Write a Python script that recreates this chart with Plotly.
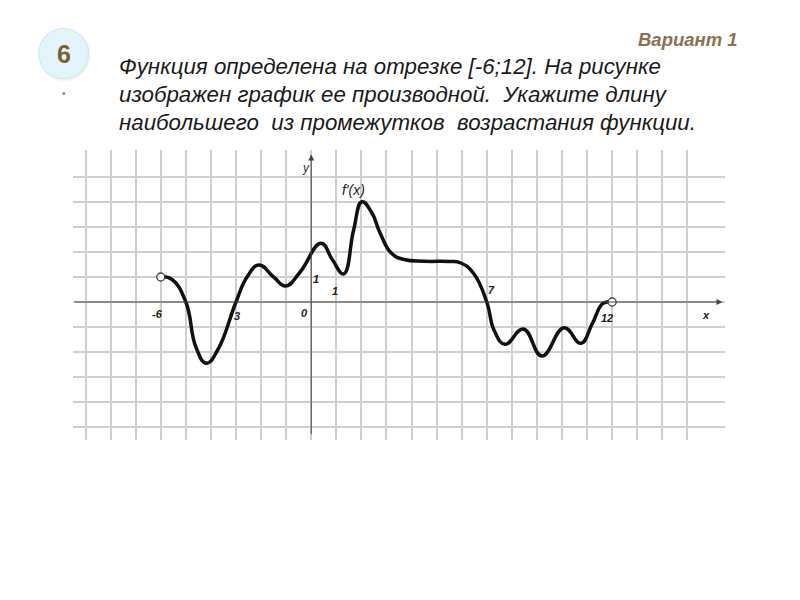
import plotly.graph_objects as go

# Derivative f'(x) sampled at its key points (extrema, zeros, plateau)
x_pts = [-6, -5.55, -5.0, -4.6, -4.18, -3.72, -3.0, -2.56, -2.09, -1.5,
         -1.02, -0.44, 0.39, 0.85, 1.29, 1.69, 2.02, 2.4, 2.75, 3.2,
         3.7, 4.5, 5.5, 5.94, 6.47, 7.0, 7.3, 7.73, 8.46, 9.2,
         10.08, 10.75, 11.2, 11.6, 11.8, 12]
y_pts = [1.0, 0.9, 0.0, -1.8, -2.45, -1.9, 0.0, 1.0, 1.48, 1.0,
         0.64, 1.2, 2.35, 1.68, 1.12, 2.88, 4.01, 3.6, 2.75, 1.95,
         1.7, 1.63, 1.62, 1.57, 1.15, 0.0, -1.15, -1.69, -1.08, -2.16,
         -1.03, -1.65, -0.88, -0.08, 0.0, 0.0]

# Open endpoints of the domain [-6; 12]
end_x = [-6, 12]
end_y = [1, 0]

# Grid
grid_x = list(range(-9, 16))
grid_y = list(range(-5, 6))

# Axis tick labels drawn by hand: (text, x, y)
tick_labels = [("-6", -6.14, -0.48), ("3", -2.95, -0.56), ("0", -0.28, -0.44),
               ("1", 0.96, 0.44), ("1", 0.2, 0.92), ("7", 7.17, 0.48),
               ("12", 11.8, -0.64)]

question = ["Функция определена на отрезке [-6;12]. На рисунке",
            "изображен график ее производной.\u00a0 Укажите длину",
            "наибольшего\u00a0 из промежутков\u00a0 возрастания функции."]

# Plot area in pixels
L, R, T, B = 72.5, 725.1, 150, 440
X_RANGE = [-9.5, 16.5]
Y_RANGE = [-5.52, 6.08]


def px(v):
    return (v - L) / (R - L)


def py(v):
    return (B - v) / (B - T)


fig = go.Figure()

fig.add_trace(go.Scatter(
    x=x_pts, y=y_pts, mode="lines",
    line=dict(color="#111111", width=3.5, shape="spline", smoothing=1.3),
    hoverinfo="skip", showlegend=False))

fig.add_trace(go.Scatter(
    x=end_x, y=end_y, mode="markers",
    marker=dict(size=8, color="white", line=dict(color="#444444", width=1.3)),
    hoverinfo="skip", showlegend=False))

ann = []
# coordinate axes with arrowheads
ann.append(dict(x=16.4, y=0, ax=-9.5, ay=0, xref="x", yref="y", axref="x", ayref="y",
                text="", showarrow=True, arrowhead=2, arrowsize=1.2, arrowwidth=1,
                arrowcolor="#444444"))
ann.append(dict(x=0, y=5.9, ax=0, ay=-5.35, xref="x", yref="y", axref="x", ayref="y",
                text="", showarrow=True, arrowhead=2, arrowsize=1.2, arrowwidth=1,
                arrowcolor="#444444"))

lab_font = dict(family="Liberation Sans, Arial", size=11, color="#222222",
                weight="bold", style="italic")
for t, lx, ly in tick_labels:
    ann.append(dict(x=lx, y=ly, xref="x", yref="y", text=t, showarrow=False,
                    font=lab_font))
ann.append(dict(x=15.74, y=-0.52, xref="x", yref="y", text="x", showarrow=False,
                font=lab_font))
ann.append(dict(x=-0.2, y=5.36, xref="x", yref="y", text="y", showarrow=False,
                font=dict(family="Liberation Sans, Arial", size=12, color="#333333",
                          style="italic")))
ann.append(dict(x=1.7, y=4.5, xref="x", yref="y", text="f′(x)", showarrow=False,
                font=dict(family="Liberation Sans, Arial", size=14, color="#222222",
                          style="italic")))

# question text
for i, line in enumerate(question):
    ann.append(dict(x=px(117), y=py(66.5 + i * 28.2), xref="paper", yref="paper",
                    xanchor="left", yanchor="middle", text=line, showarrow=False,
                    font=dict(family="Liberation Sans, Arial", size=22.3,
                              color="#1a1a1a", style="italic")))

# variant header
ann.append(dict(x=px(740), y=py(40), xref="paper", yref="paper", xanchor="right",
                yanchor="middle", text="Вариант 1", showarrow=False,
                font=dict(family="Liberation Sans, Arial", size=18.5, color="#8c7150",
                          weight="bold", style="italic")))

# problem number badge
ann.append(dict(x=px(63), y=py(54), xref="paper", yref="paper", text="6",
                xanchor="center", yanchor="middle", showarrow=False,
                font=dict(family="Liberation Sans, Arial", size=25, color="#7d602f",
                          weight="bold")))

shapes = [
    dict(type="circle", xref="paper", yref="paper",
         x0=px(38), x1=px(90), y0=py(81), y1=py(29),
         fillcolor="rgba(150,150,150,0.12)", line=dict(width=0), layer="below"),
    dict(type="circle", xref="paper", yref="paper",
         x0=px(38), x1=px(88), y0=py(78.5), y1=py(28.5),
         fillcolor="#e1f5fa", line=dict(color="#cbe7ef", width=1), layer="below"),
    dict(type="circle", xref="paper", yref="paper",
         x0=px(61.8), x1=px(64.8), y0=py(95), y1=py(92),
         fillcolor="#8f8f8f", line=dict(width=0), layer="below"),
]

fig.update_layout(
    width=800, height=600,
    margin=dict(l=L, r=800 - R, t=T, b=600 - B, pad=0),
    paper_bgcolor="white", plot_bgcolor="white",
    annotations=ann, shapes=shapes,
    xaxis=dict(range=X_RANGE, tickvals=grid_x, showticklabels=False, ticks="",
               showgrid=True, gridcolor="#cfcfcf", gridwidth=1.6,
               zeroline=False, showline=False, fixedrange=True),
    yaxis=dict(range=Y_RANGE, tickvals=grid_y, showticklabels=False, ticks="",
               showgrid=True, gridcolor="#cfcfcf", gridwidth=1.6,
               zeroline=False, showline=False, fixedrange=True),
)

fig.write_html("out.html")
